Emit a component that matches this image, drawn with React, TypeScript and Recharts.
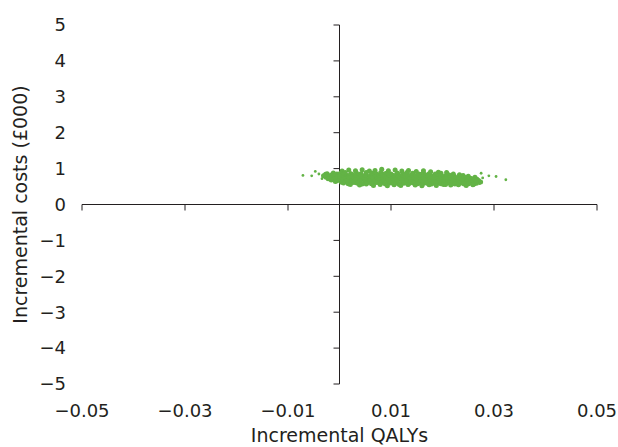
import React from "react";
import {
  ReferenceDot,
  ReferenceLine,
  Scatter,
  ScatterChart,
  XAxis,
  YAxis,
} from "recharts";

const xTicks = [-0.05, -0.03, -0.01, 0.01, 0.03, 0.05];
const yTicks = [-5, -4, -3, -2, -1, 0, 1, 2, 3, 4, 5];

// PSA cloud: [incremental QALYs, incremental costs (£000)]
const topEdge = [
  [0.0005, 0.93], [0.0018, 0.96], [0.0031, 0.94], [0.0044, 0.97], [0.0058, 0.93], [0.0069, 0.95],
  [0.0082, 0.98], [0.0095, 0.94], [0.0108, 0.96], [0.0121, 0.93], [0.0134, 0.95], [0.0149, 0.92],
  [0.0163, 0.94], [0.0177, 0.91], [0.0192, 0.9], [0.0208, 0.89],
];
const upperBand = [
  [-0.0024, 0.86], [-0.0012, 0.88], [0.0002, 0.87], [0.0011, 0.89], [0.0022, 0.86], [0.0033, 0.88],
  [0.0041, 0.85], [0.0052, 0.89], [0.0063, 0.87], [0.0071, 0.86], [0.008, 0.89], [0.0091, 0.87],
  [0.01, 0.85], [0.0112, 0.88], [0.0123, 0.86], [0.0131, 0.89], [0.0142, 0.87], [0.0154, 0.85],
  [0.0163, 0.88], [0.0174, 0.86], [0.0186, 0.85], [0.0197, 0.87], [0.0209, 0.84], [0.0221, 0.85],
  [0.0233, 0.83],
  [-0.0027, 0.84], [-0.0016, 0.82], [-0.0005, 0.85], [0.0006, 0.83], [0.0015, 0.81], [0.0024, 0.84],
  [0.0033, 0.82], [0.0042, 0.85], [0.0051, 0.83], [0.006, 0.81], [0.0069, 0.84], [0.0078, 0.82],
  [0.0087, 0.85], [0.0096, 0.83], [0.0105, 0.81], [0.0114, 0.84], [0.0123, 0.82], [0.0132, 0.85],
  [0.0141, 0.83], [0.015, 0.81], [0.0159, 0.84], [0.0168, 0.82], [0.0177, 0.8], [0.0186, 0.83],
  [0.0195, 0.81], [0.0204, 0.79], [0.0213, 0.82], [0.0222, 0.8], [0.0231, 0.78], [0.024, 0.81],
  [0.025, 0.79],
];
const middleBand = [
  [-0.0031, 0.8], [-0.002, 0.78], [-0.0009, 0.81], [0.0001, 0.79], [0.001, 0.77], [0.0019, 0.8],
  [0.0028, 0.78], [0.0037, 0.81], [0.0046, 0.79], [0.0055, 0.77], [0.0064, 0.8], [0.0073, 0.78],
  [0.0082, 0.81], [0.0091, 0.79], [0.01, 0.77], [0.0109, 0.8], [0.0118, 0.78], [0.0127, 0.81],
  [0.0136, 0.79], [0.0145, 0.77], [0.0154, 0.8], [0.0163, 0.78], [0.0172, 0.76], [0.0181, 0.79],
  [0.019, 0.77], [0.0199, 0.75], [0.0208, 0.78], [0.0217, 0.76], [0.0226, 0.74], [0.0235, 0.77],
  [0.0244, 0.75], [0.0254, 0.73], [0.0263, 0.76],
  [-0.0026, 0.76], [-0.0015, 0.74], [-0.0004, 0.77], [0.0005, 0.75], [0.0014, 0.73], [0.0023, 0.76],
  [0.0032, 0.74], [0.0041, 0.77], [0.005, 0.75], [0.0059, 0.73], [0.0068, 0.76], [0.0077, 0.74],
  [0.0086, 0.77], [0.0095, 0.75], [0.0104, 0.73], [0.0113, 0.76], [0.0122, 0.74], [0.0131, 0.72],
  [0.014, 0.75], [0.0149, 0.73], [0.0158, 0.76], [0.0167, 0.74], [0.0176, 0.72], [0.0185, 0.75],
  [0.0194, 0.73], [0.0203, 0.71], [0.0212, 0.74], [0.0221, 0.72], [0.023, 0.7], [0.0239, 0.73],
  [0.0248, 0.71], [0.0257, 0.72], [0.0267, 0.7],
];
const lowerBand = [
  [-0.0022, 0.72], [-0.0011, 0.7], [0.0, 0.72], [0.0009, 0.7], [0.0018, 0.73], [0.0027, 0.71],
  [0.0036, 0.69], [0.0045, 0.72], [0.0054, 0.7], [0.0063, 0.73], [0.0072, 0.71], [0.0081, 0.69],
  [0.009, 0.72], [0.0099, 0.7], [0.0108, 0.68], [0.0117, 0.71], [0.0126, 0.69], [0.0135, 0.72],
  [0.0144, 0.7], [0.0153, 0.68], [0.0162, 0.71], [0.0171, 0.69], [0.018, 0.67], [0.0189, 0.7],
  [0.0198, 0.68], [0.0207, 0.71], [0.0216, 0.69], [0.0225, 0.67], [0.0234, 0.7], [0.0243, 0.68],
  [0.0252, 0.66], [0.0261, 0.69], [0.027, 0.67],
  [-0.0016, 0.68], [-0.0005, 0.66], [0.0004, 0.69], [0.0013, 0.67], [0.0022, 0.65], [0.0031, 0.68],
  [0.004, 0.66], [0.0049, 0.69], [0.0058, 0.67], [0.0067, 0.65], [0.0076, 0.68], [0.0085, 0.66],
  [0.0094, 0.69], [0.0103, 0.67], [0.0112, 0.65], [0.0121, 0.68], [0.013, 0.66], [0.0139, 0.64],
  [0.0148, 0.67], [0.0157, 0.65], [0.0166, 0.68], [0.0175, 0.66], [0.0184, 0.64], [0.0193, 0.67],
  [0.0202, 0.65], [0.0211, 0.63], [0.022, 0.66], [0.0229, 0.64], [0.0238, 0.67], [0.0247, 0.65],
  [0.0256, 0.63], [0.0265, 0.65], [0.0274, 0.63],
];
const bottomBand = [
  [-0.0008, 0.64], [0.0004, 0.62], [0.0013, 0.65], [0.0022, 0.63], [0.0031, 0.61], [0.004, 0.64],
  [0.0049, 0.62], [0.0058, 0.65], [0.0067, 0.63], [0.0076, 0.61], [0.0085, 0.64], [0.0094, 0.62],
  [0.0103, 0.6], [0.0112, 0.63], [0.0121, 0.61], [0.013, 0.64], [0.0139, 0.62], [0.0148, 0.6],
  [0.0157, 0.63], [0.0166, 0.61], [0.0175, 0.64], [0.0184, 0.62], [0.0193, 0.6], [0.0202, 0.63],
  [0.0211, 0.61], [0.022, 0.59], [0.0229, 0.62], [0.0238, 0.6], [0.0247, 0.63], [0.0256, 0.61],
  [0.0266, 0.59],
  [0.0008, 0.6], [0.0017, 0.58], [0.0026, 0.61], [0.0035, 0.59], [0.0044, 0.57], [0.0053, 0.6],
  [0.0062, 0.58], [0.0071, 0.61], [0.008, 0.59], [0.0089, 0.57], [0.0098, 0.6], [0.0107, 0.58],
  [0.0116, 0.56], [0.0125, 0.59], [0.0134, 0.57], [0.0143, 0.6], [0.0152, 0.58], [0.0161, 0.56],
  [0.017, 0.59], [0.0179, 0.57], [0.0188, 0.6], [0.0197, 0.58], [0.0206, 0.56], [0.0215, 0.59],
  [0.0224, 0.57], [0.0233, 0.59], [0.0242, 0.57], [0.0251, 0.58], [0.0261, 0.57],
  [0.0021, 0.56], [0.0039, 0.54], [0.0052, 0.57], [0.0066, 0.53], [0.0079, 0.56], [0.0093, 0.52],
  [0.0106, 0.55], [0.0119, 0.53], [0.0133, 0.56], [0.0147, 0.54], [0.016, 0.52], [0.0174, 0.55],
  [0.0188, 0.53], [0.0202, 0.56], [0.0216, 0.54], [0.0231, 0.55], [0.0246, 0.53], [0.0259, 0.55],
];
const outliers = [
  [-0.0071, 0.81], [-0.0054, 0.8], [-0.0047, 0.92], [-0.004, 0.85], [-0.0034, 0.72],
  [0.0275, 0.87], [0.029, 0.8], [0.0304, 0.78], [0.0323, 0.69], [0.0278, 0.74], [0.0272, 0.58],
];

const toPoints = (rows: number[][]) => rows.map(([x, y]) => ({ x, y }));
const core = toPoints([...topEdge, ...upperBand, ...middleBand, ...lowerBand, ...bottomBand]);
const stray = toPoints(outliers);

const ink = "#231f20";
const green = "#63b346";
const font = "'DejaVu Sans', sans-serif";

const fmt = (v: number, digits: number) =>
  v < 0 ? "\u2212" + Math.abs(v).toFixed(digits) : v.toFixed(digits);

export default function App() {
  const tickStyle = { fill: ink, fontSize: 18, fontFamily: font };

  return (
    <div style={{ position: "absolute", left: 0, top: 0 }}>
      <ScatterChart width={618} height={447} margin={{ top: 25, right: 21, bottom: 0, left: 0 }}>
        <XAxis
          type="number"
          dataKey="x"
          domain={[-0.05, 0.05]}
          ticks={xTicks}
          tickFormatter={(v) => fmt(v, 2)}
          axisLine={false}
          tickLine={false}
          tickSize={6}
          tickMargin={14}
          height={63}
          tick={tickStyle}
          allowDataOverflow
          label={{
            value: "Incremental QALYs",
            position: "insideBottom",
            offset: 5,
            style: { fill: ink, fontSize: 19, fontFamily: font },
          }}
        />
        <YAxis
          type="number"
          dataKey="y"
          domain={[-5, 5]}
          ticks={yTicks}
          tickFormatter={(v) => fmt(v, 0)}
          axisLine={false}
          tickLine={false}
          tickSize={6}
          tickMargin={10}
          width={82}
          tick={tickStyle}
          allowDataOverflow
          label={(props: any) => {
            const vb = props.viewBox || {};
            const cx = 20;
            const cy = vb.y + vb.height / 2;
            return (
              <text
                x={cx}
                y={cy}
                transform={`rotate(-90, ${cx}, ${cy})`}
                textAnchor="middle"
                dominantBaseline="central"
                fill={ink}
                fontSize={19}
                fontFamily={font}
              >
                Incremental costs (£000)
              </text>
            );
          }}
        />
        <ReferenceLine x={0} stroke={ink} strokeWidth={1} ifOverflow="visible" />
        <ReferenceLine y={0} stroke={ink} strokeWidth={1} ifOverflow="visible" />
        {yTicks.map((v) => (
          <ReferenceDot
            key={"yt" + v}
            x={0}
            y={v}
            ifOverflow="visible"
            shape={(p: any) => (
              <line x1={p.cx - 6} y1={p.cy} x2={p.cx} y2={p.cy} stroke={ink} strokeWidth={1} />
            )}
          />
        ))}
        {xTicks.map((v) => (
          <ReferenceDot
            key={"xt" + v}
            x={v}
            y={0}
            ifOverflow="visible"
            shape={(p: any) => (
              <line x1={p.cx} y1={p.cy} x2={p.cx} y2={p.cy + 6} stroke={ink} strokeWidth={1} />
            )}
          />
        ))}
        <Scatter
          data={core}
          isAnimationActive={false}
          shape={(p: any) => <circle cx={p.cx} cy={p.cy} r={2.5} fill={green} />}
        />
        <Scatter
          data={stray}
          isAnimationActive={false}
          shape={(p: any) => <circle cx={p.cx} cy={p.cy} r={1.4} fill={green} />}
        />
      </ScatterChart>
    </div>
  );
}
